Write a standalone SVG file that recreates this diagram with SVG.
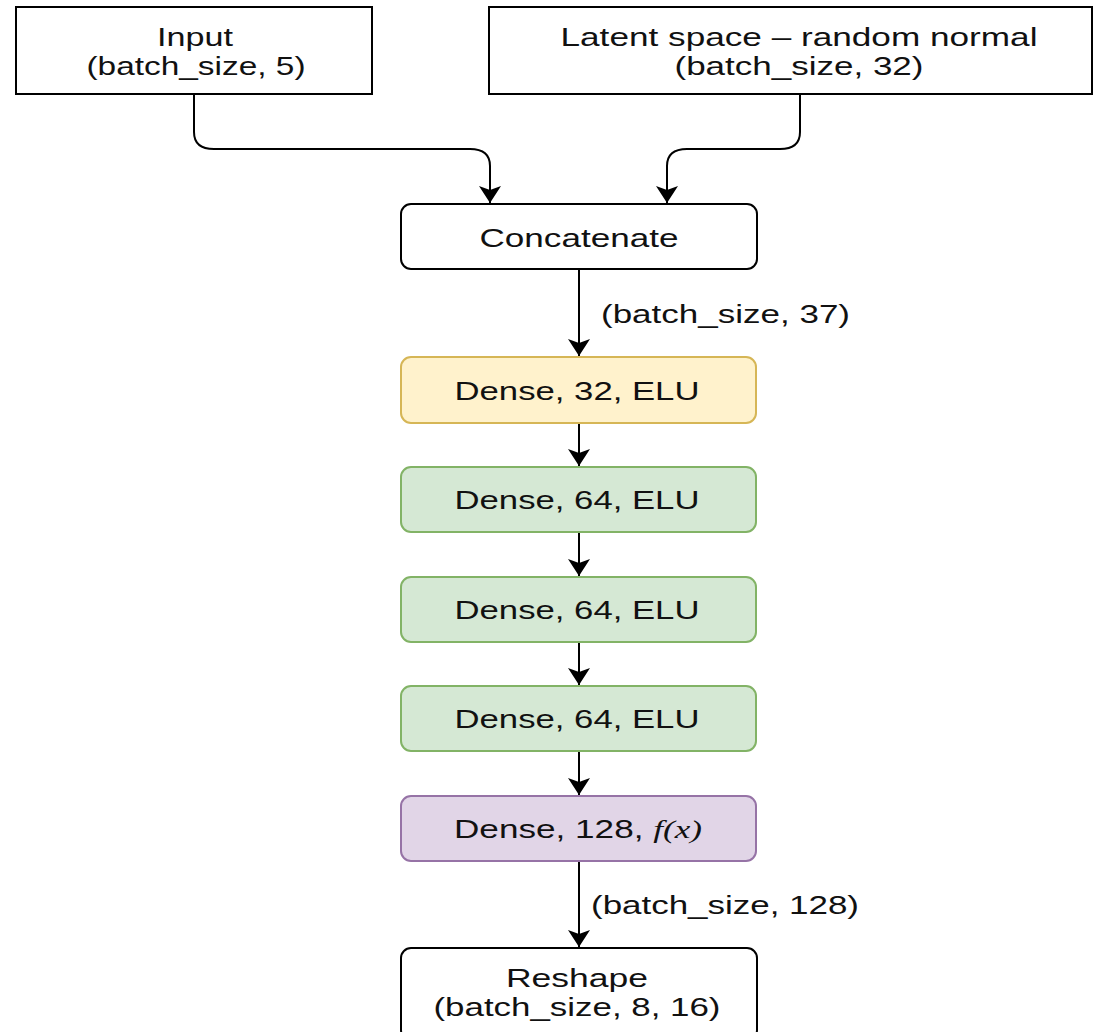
<svg xmlns="http://www.w3.org/2000/svg" width="1097" height="1032" viewBox="0 0 1097 1032">
  <defs>
    <marker id="arrow" viewBox="0 -12 18 24" markerUnits="userSpaceOnUse" markerWidth="18" markerHeight="24" refX="17" refY="0" orient="auto">
      <path d="M17,0 L0,-11 L4,0 L0,11 Z" fill="#000"/>
    </marker>
    <style>
      .lbl { font-family: "Liberation Sans", Arial, Helvetica, sans-serif; font-size: 26px; fill: #111; text-anchor: middle; }
      .lbl2 { font-family: "Liberation Sans", Arial, Helvetica, sans-serif; font-size: 25px; fill: #111; text-anchor: middle; }
      .edge-lbl { font-family: "Liberation Sans", Arial, Helvetica, sans-serif; font-size: 26px; fill: #111; text-anchor: start; }
      .math { font-family: "Liberation Serif", "Times New Roman", serif; font-style: italic; }
      .plain { fill: #fff; stroke: #000; stroke-width: 2; }
      .yellow { fill: #fff2cc; stroke: #d6b656; stroke-width: 2; }
      .green { fill: #d5e8d4; stroke: #82b366; stroke-width: 2; }
      .purple { fill: #e1d5e7; stroke: #9673a6; stroke-width: 2; }
      .edge { fill: none; stroke: #000; stroke-width: 2; marker-end: url(#arrow); }
    </style>
  </defs>
  <rect width="1097" height="1032" fill="#fff"/>

  <!-- connectors -->
  <g id="connectors">
    <path class="edge" d="M194,94 V132 C194,143 201,149 214,149 H470 C483,149 490,155 490,166 V203"/>
    <path class="edge" d="M800,94 V132 C800,143 793,149 780,149 H687 C674,149 667,155 667,166 V203"/>
    <path class="edge" d="M579,269 V356"/>
    <path class="edge" d="M579,423 V466"/>
    <path class="edge" d="M579,532 V576"/>
    <path class="edge" d="M579,642 V685"/>
    <path class="edge" d="M579,751 V795"/>
    <path class="edge" d="M579,861 V947"/>
    <text class="edge-lbl" x="601" y="323" textLength="249" lengthAdjust="spacingAndGlyphs">(batch_size, 37)</text>
    <text class="edge-lbl" x="591" y="914" textLength="268" lengthAdjust="spacingAndGlyphs">(batch_size, 128)</text>
  </g>

  <!-- nodes -->
  <g id="input">
    <rect class="plain" x="16" y="7" width="356" height="87"/>
    <text class="lbl2" x="195" y="46" textLength="76" lengthAdjust="spacingAndGlyphs">Input</text>
    <text class="lbl2" x="196" y="75" textLength="219" lengthAdjust="spacingAndGlyphs">(batch_size, 5)</text>
  </g>

  <g id="latent">
    <rect class="plain" x="489" y="7" width="603" height="87"/>
    <text class="lbl2" x="799" y="46" textLength="477" lengthAdjust="spacingAndGlyphs">Latent space – random normal</text>
    <text class="lbl2" x="799" y="75" textLength="249" lengthAdjust="spacingAndGlyphs">(batch_size, 32)</text>
  </g>

  <g id="concatenate">
    <rect class="plain" x="401" y="204" width="356" height="65" rx="10"/>
    <text class="lbl" x="579" y="247" textLength="199" lengthAdjust="spacingAndGlyphs">Concatenate</text>
  </g>

  <g id="dense32">
    <rect class="yellow" x="401" y="357" width="355" height="66" rx="10"/>
    <text class="lbl" x="577" y="400" textLength="245" lengthAdjust="spacingAndGlyphs">Dense, 32, ELU</text>
  </g>

  <g id="dense64a">
    <rect class="green" x="401" y="467" width="355" height="65" rx="10"/>
    <text class="lbl" x="577" y="509" textLength="245" lengthAdjust="spacingAndGlyphs">Dense, 64, ELU</text>
  </g>

  <g id="dense64b">
    <rect class="green" x="401" y="577" width="355" height="65" rx="10"/>
    <text class="lbl" x="577" y="619" textLength="245" lengthAdjust="spacingAndGlyphs">Dense, 64, ELU</text>
  </g>

  <g id="dense64c">
    <rect class="green" x="401" y="686" width="355" height="65" rx="10"/>
    <text class="lbl" x="577" y="728" textLength="245" lengthAdjust="spacingAndGlyphs">Dense, 64, ELU</text>
  </g>

  <g id="dense128">
    <rect class="purple" x="401" y="796" width="355" height="65" rx="10"/>
    <text class="lbl" x="578" y="838" textLength="248" lengthAdjust="spacingAndGlyphs">Dense, 128, <tspan class="math">f</tspan><tspan class="math" font-style="normal">(</tspan><tspan class="math">x</tspan><tspan class="math" font-style="normal">)</tspan></text>
  </g>

  <g id="reshape">
    <rect class="plain" x="401" y="948" width="356" height="92" rx="10"/>
    <text class="lbl2" x="577" y="987" textLength="142" lengthAdjust="spacingAndGlyphs">Reshape</text>
    <text class="lbl2" x="577" y="1016" textLength="287" lengthAdjust="spacingAndGlyphs">(batch_size, 8, 16)</text>
  </g>
</svg>
